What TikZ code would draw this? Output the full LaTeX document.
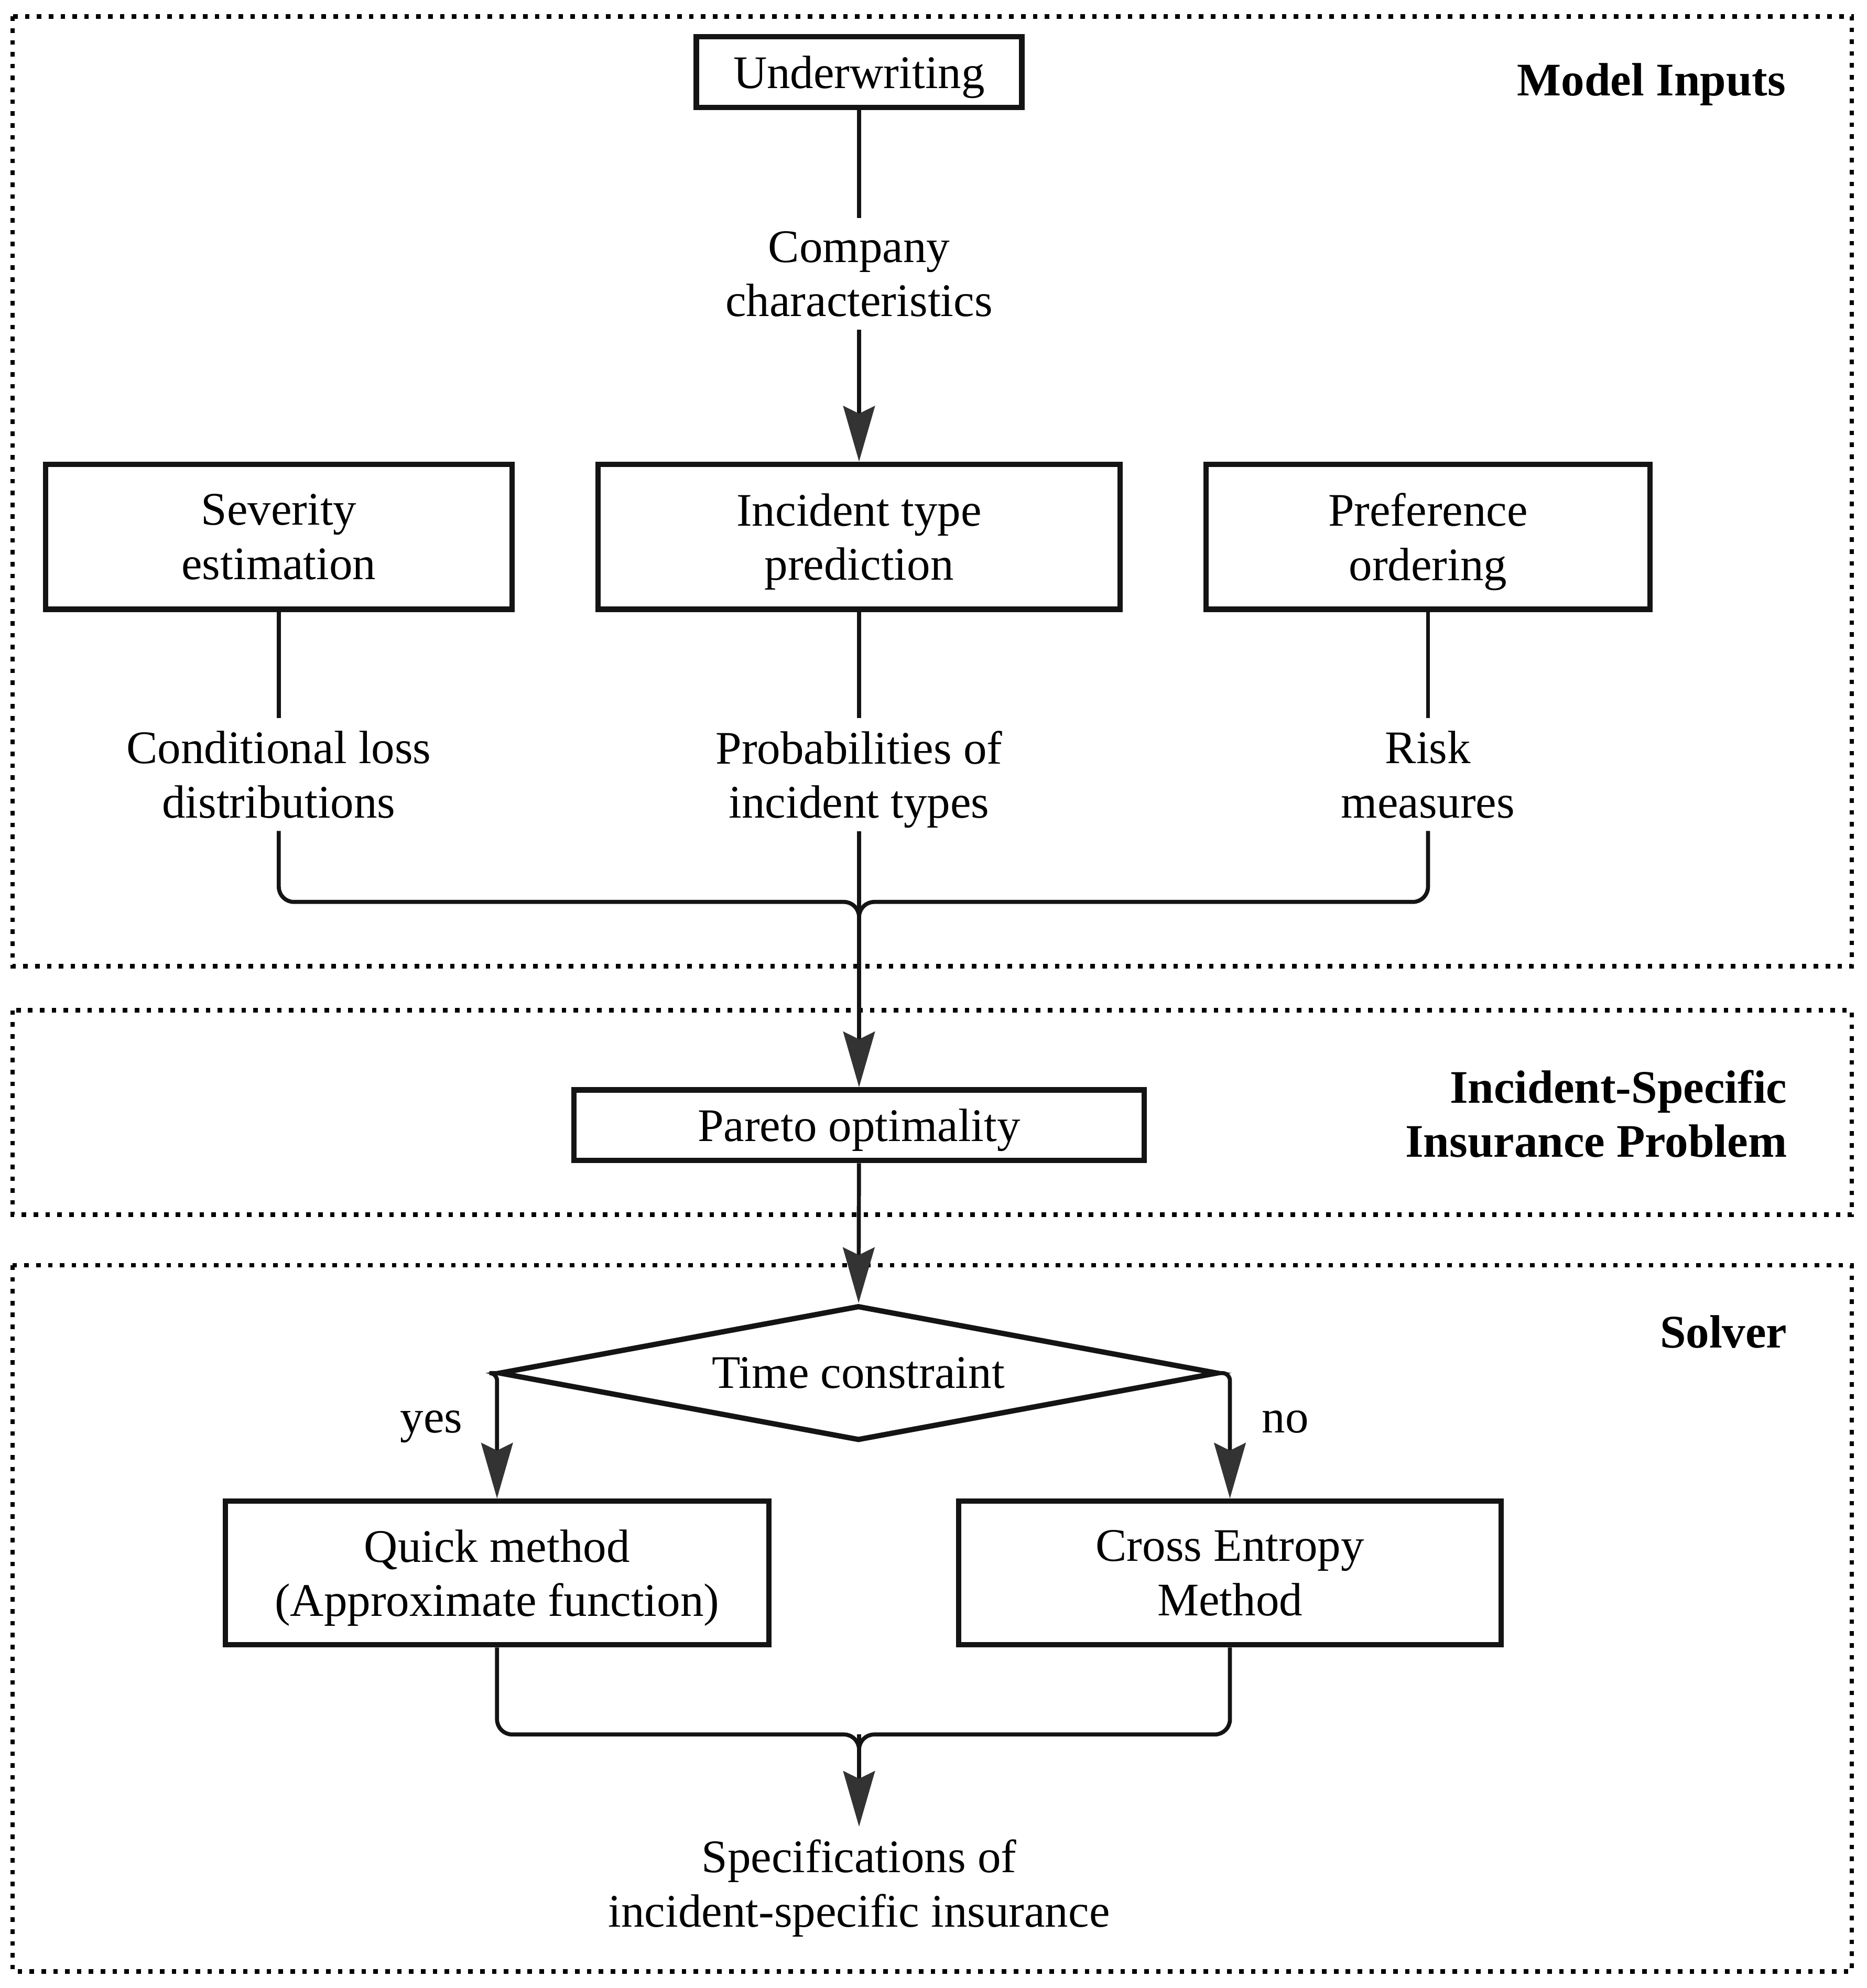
\documentclass[tikz,border=0pt]{standalone}
\usepackage{fontspec}
\setmainfont{Liberation Serif}
\usetikzlibrary{arrows.meta,shapes.geometric}
\definecolor{ink}{HTML}{141414}
\definecolor{tipc}{HTML}{333333}
\begin{document}
\begin{tikzpicture}[x=0.5pt,y=-0.5pt,
  font=\fontsize{18.5}{21.5}\selectfont,
  region/.style={draw=black, line width=1.8pt, dash pattern=on 1.8pt off 2.9pt},
  box/.style={draw=ink, line width=2.1pt, rectangle, align=center, inner sep=0pt, text depth=0pt},
  lbl/.style={align=center, inner sep=5pt, text depth=0pt},
  conn/.style={draw=ink, line width=1.6pt},
  arr/.style={conn, -{Stealth[length=22pt,width=12.5pt,inset=3pt,color=tipc]}},
  ttl/.style={font=\fontsize{18.5}{21.5}\selectfont\bfseries, align=right, anchor=east, inner sep=0pt}
]
\useasboundingbox (0,0) rectangle (1480,1576);

% regions
\draw[region] (10,13) rectangle (1468,766);
\draw[region] (10,801) rectangle (1468,963);
\draw[region] (10,1003) rectangle (1468,1563);

\node[ttl] (tMI) at (1416,67) {Model Inputs};
\node[ttl] (tIS) at (1417,883) {Incident-Specific\\Insurance Problem};
\node[ttl] (tSV) at (1417,1056) {Solver};

% nodes
\node[box, minimum width=129pt, minimum height=28pt] (uw) at (681,57) {Underwriting};
\node[lbl] (cc) at (681,217) {Company\\characteristics};
\node[box, minimum width=185pt, minimum height=57.5pt] (sev) at (221,425.5) {Severity\\estimation};
\node[box, minimum width=207pt, minimum height=57.5pt] (inc) at (681,425.5) {Incident type\\prediction};
\node[box, minimum width=176pt, minimum height=57.5pt] (pref) at (1132,425.5) {Preference\\ordering};
\node[lbl] (cl) at (221,614) {Conditional loss\\distributions};
\node[lbl] (pr) at (681,614) {Probabilities of\\incident types};
\node[lbl] (rm) at (1132,614) {Risk\\measures};
\node[box, minimum width=226pt, minimum height=28pt] (par) at (681,892) {Pareto optimality};
\node[draw=ink, line width=2.1pt, diamond, aspect=5, minimum width=285pt, minimum height=53.5pt, inner sep=0pt] (tc) at (680.5,1088.5) {Time constraint};
\node[box, minimum width=215.5pt, minimum height=57pt] (qm) at (394,1247) {Quick method\\(Approximate function)};
\node[box, minimum width=215pt, minimum height=57pt] (ce) at (975,1247) {Cross Entropy\\Method};
\node[lbl] (spec) at (681,1493) {Specifications of\\incident-specific insurance};
\node[lbl, inner sep=0pt] (yes) at (342,1127) {yes};
\node[lbl, inner sep=0pt] (no) at (1019,1127) {no};

\coordinate (m1) at (681,715);
\coordinate (m1b) at (681,745);
\coordinate (m2) at (681,1375);
\coordinate (m2b) at (681,1405);

% connectors
\draw[conn] (uw) -- (cc);
\draw[arr] (cc) -- (inc);
\draw[conn] (sev) -- (cl);
\draw[conn] (inc) -- (pr);
\draw[conn] (pref) -- (rm);
\draw[conn, rounded corners=6pt] (cl.south) |- (m1) -- (m1b);
\draw[conn, rounded corners=6pt] (rm.south) |- (m1) -- (m1b);
\draw[arr] (pr) -- (par);
\draw[arr] (par) -- (tc);
\draw[arr, rounded corners=3pt] (tc.west) -| (qm.north);
\draw[arr, rounded corners=3pt] (tc.east) -| (ce.north);
\draw[conn, rounded corners=6pt] (qm.south) |- (m2) -- (m2b);
\draw[conn, rounded corners=6pt] (ce.south) |- (m2) -- (m2b);
\draw[arr] (m2) -- (spec);
\end{tikzpicture}
\end{document}
